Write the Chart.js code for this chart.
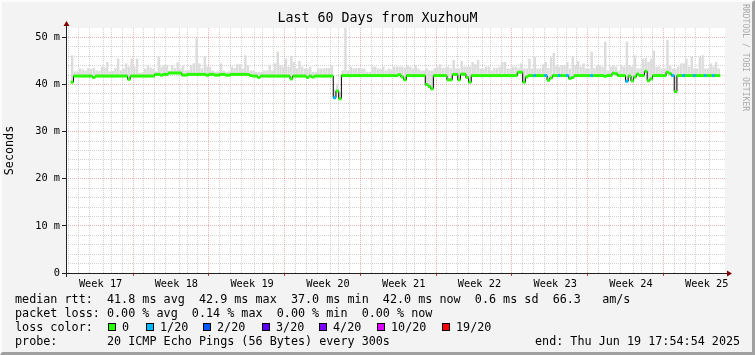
<!DOCTYPE html>
<html>
<head>
<meta charset="utf-8">
<title>Last 60 Days from XuzhouM</title>
<script src="https://cdn.jsdelivr.net/npm/chart.js@4.4.1/dist/chart.umd.min.js"></script>
<style>
  html, body { margin: 0; padding: 0; background: #f3f3f3; }
  #wrap { position: relative; width: 755px; height: 355px; background: #f3f3f3; overflow: hidden;
          font-family: 'DejaVu Sans Mono', monospace; color: #000; }
  #myChart { position: absolute; left: 0; top: 0; }
  #frame { position: absolute; left: 0; top: 0; width: 755px; height: 355px; box-sizing: border-box;
           border-top: 2px solid #fcfcfc; border-left: 2px solid #fcfcfc;
           border-right: 3px solid #a0a0a0; border-bottom: 3px solid #a0a0a0; pointer-events: none; }
  .row { position: absolute; left: 15px; font-size: 11.75px; line-height: 14px; white-space: pre; }
  .box { position: absolute; top: 323px; width: 8px; height: 8px; box-sizing: border-box; border: 1px solid #000; }
  .lbl { position: absolute; top: 320px; font-size: 11.75px; line-height: 14px; white-space: pre; }
  #credit { position: absolute; left: 741px; top: 4px; writing-mode: vertical-rl; font-size: 8.1px;
            color: #aaaaaa; white-space: pre; }
</style>
</head>
<body>
<div id="wrap">
  <canvas id="myChart" width="755" height="355"></canvas>
  <div id="credit">RRDTOOL / TOBI OETIKER</div>
  <div class="row" style="top:292px">median rtt:  41.8 ms avg  42.9 ms max  37.0 ms min  42.0 ms now  0.6 ms sd  66.3   am/s</div>
  <div class="row" style="top:306px">packet loss: 0.00 % avg  0.14 % max  0.00 % min  0.00 % now</div>
  <div class="row" style="top:320px">loss color:</div>
  <div id="lossRow"></div>
  <div class="row" style="top:334px">probe:       20 ICMP Echo Pings (56 Bytes) every 300s</div>
  <div class="row" style="top:334px;left:535px">end: Thu Jun 19 17:54:54 2025</div>
  <div id="frame"></div>
</div>
<script>
// 60 days, one sample every 6 hours (value in ms)
const median = [
  40.5, 41.8, 41.8, 41.8, 41.8, 41.8, 41.8, 41.8, 41.5, 41.8,
  41.8, 41.8, 41.8, 41.8, 41.8, 41.8, 41.8, 41.8, 41.8, 41.8,
  41.8, 41.1, 41.8, 41.8, 41.8, 41.8, 41.8, 41.8, 41.8, 41.8,
  41.8, 42.15, 42.15, 42.0, 42.15, 42.15, 42.45, 42.45, 42.45, 42.45,
  42.45, 42.0, 42.0, 42.15, 42.15, 42.15, 42.15, 42.15, 42.15, 42.15,
  42.0, 42.15, 42.15, 42.0, 42.0, 42.15, 42.15, 42.0, 42.0, 42.15,
  42.15, 42.15, 42.15, 42.15, 42.15, 42.15, 41.9, 41.8, 41.8, 41.5,
  41.8, 41.8, 41.8, 41.8, 41.8, 41.8, 41.8, 41.8, 41.8, 41.8,
  41.8, 41.2, 41.8, 41.8, 41.8, 41.8, 41.8, 41.5, 41.8, 41.6,
  41.8, 41.8, 41.8, 41.8, 41.8, 41.8, 41.8, 37.2, 38.6, 37.0,
  41.9, 41.9, 41.9, 41.9, 41.9, 41.9, 41.9, 41.9, 41.9, 41.9,
  41.9, 41.9, 41.9, 41.9, 41.9, 41.9, 41.9, 41.9, 41.9, 41.9,
  41.9, 42.1, 41.6, 41.0, 41.9, 41.9, 41.9, 41.9, 41.9, 41.9,
  41.9, 40.0, 39.6, 39.1, 41.9, 41.9, 41.9, 41.9, 41.9, 41.0,
  41.0, 42.15, 42.15, 41.0, 42.2, 42.2, 41.5, 40.5, 41.9, 41.9,
  41.9, 41.9, 41.9, 41.9, 41.9, 41.9, 41.9, 41.9, 41.9, 41.9,
  41.9, 41.9, 41.9, 41.9, 41.9, 42.6, 42.6, 40.5, 41.6, 41.9,
  41.9, 41.9, 41.9, 41.9, 41.9, 41.9, 40.9, 41.4, 41.9, 41.9,
  41.9, 41.9, 41.9, 41.9, 41.3, 41.5, 41.9, 41.9, 41.9, 41.9,
  41.9, 41.9, 41.9, 41.9, 41.9, 41.9, 41.9, 41.75, 41.9, 41.9,
  42.4, 42.3, 41.9, 41.9, 41.9, 40.7, 41.8, 40.8, 41.6, 42.2,
  41.9, 41.9, 42.8, 40.8, 41.2, 41.9, 41.9, 41.9, 41.9, 41.9,
  42.6, 42.3, 41.9, 38.5, 41.9, 41.9, 41.9, 41.9, 41.9, 41.9,
  41.9, 41.9, 41.9, 41.9, 41.9, 41.9, 41.9, 41.9, 41.9, 41.9
];

// top of the smoke (slowest ping) per sample, ms
const smokeTop = [
  46.2, 42.8, 42.8, 43.4, 43.2, 43.0, 43.5, 43.3, 43.5, 43.0,
  42.9, 43.8, 43.6, 44.8, 42.8, 42.9, 43.5, 45.5, 43.0, 43.4,
  44.5, 43.8, 45.5, 43.8, 45.5, 42.5, 42.6, 43.4, 44.1, 43.6,
  43.4, 42.8, 46.0, 43.8, 44.1, 44.2, 43.0, 44.1, 43.5, 44.7,
  43.4, 44.1, 43.0, 43.1, 44.1, 44.5, 49.8, 44.5, 43.4, 46.0,
  43.8, 43.7, 43.0, 42.7, 42.8, 44.5, 43.0, 42.7, 42.8, 43.8,
  43.5, 44.3, 44.3, 43.4, 46.2, 44.1, 43.0, 43.0, 42.7, 42.7,
  42.7, 43.0, 43.0, 44.2, 43.0, 44.5, 47.0, 44.2, 43.8, 45.5,
  43.8, 46.1, 44.8, 43.4, 45.0, 43.8, 43.4, 43.4, 43.8, 42.7,
  42.7, 43.4, 43.4, 43.4, 43.5, 43.5, 44.1, 39.0, 40.2, 38.5,
  43.0, 52.0, 43.0, 43.8, 43.4, 43.5, 43.5, 43.4, 43.4, 42.7,
  42.7, 43.8, 43.8, 43.4, 43.4, 43.8, 43.0, 43.4, 43.2, 43.8,
  43.8, 43.8, 43.8, 43.6, 44.1, 43.8, 43.4, 44.1, 43.4, 43.0,
  43.0, 43.5, 43.0, 43.0, 43.5, 43.8, 44.3, 43.5, 43.6, 43.8,
  43.4, 45.2, 43.4, 43.4, 45.0, 43.8, 43.8, 43.8, 44.8, 44.3,
  45.2, 43.4, 43.4, 43.8, 43.8, 43.0, 43.5, 43.5, 43.8, 44.8,
  44.8, 43.4, 43.4, 43.8, 43.8, 43.5, 44.5, 43.4, 43.4, 45.5,
  43.4, 45.9, 43.4, 43.4, 44.3, 44.8, 43.5, 45.9, 46.7, 44.1,
  43.8, 44.1, 44.1, 44.8, 43.4, 46.0, 44.1, 45.0, 43.8, 44.5,
  43.4, 43.4, 47.0, 43.5, 44.1, 44.1, 43.8, 49.1, 43.0, 43.8,
  44.1, 43.8, 43.0, 44.1, 43.8, 49.1, 44.1, 43.8, 46.2, 43.4,
  43.4, 45.5, 45.6, 44.8, 45.5, 47.2, 43.8, 43.8, 43.4, 43.4,
  49.5, 44.1, 43.4, 43.4, 43.8, 44.5, 44.5, 45.5, 43.8, 45.9,
  43.4, 43.4, 45.9, 46.2, 43.4, 43.4, 44.5, 43.8, 44.8, 43.4
];

// samples that lost 1 of 20 pings
const lossOneIdx = [97, 171, 175, 180, 183, 192, 205, 222, 226, 230, 234, 237];

const lossLabels = ["0", "1/20", "2/20", "3/20", "4/20", "10/20", "19/20"];
const lossColors = ["#26ff00", "#00b8ff", "#0059ff", "#5e00ff", "#7e00ff", "#dd00ff", "#ff0000"];

const weekLabels = ["Week 17", "Week 18", "Week 19", "Week 20", "Week 21", "Week 22", "Week 23", "Week 24", "Week 25"];
const yTickValues = [0, 10, 20, 30, 40, 50];
const yTickLabels = ["0", "10 m", "20 m", "30 m", "40 m", "50 m"];

// start is Sun Apr 20 17:54:54, first midnight 0.2535 days later
const firstMidnight = 0.2535;
const sampleStep = 0.25;

// ---- legend row with the colour boxes
const boxX = [108, 146, 203, 262, 319, 377, 442];
const lossRow = document.getElementById("lossRow");
lossLabels.forEach(function (l, i) {
    const b = document.createElement("div");
    b.className = "box";
    b.style.left = boxX[i] + "px";
    b.style.background = lossColors[i];
    lossRow.appendChild(b);
    const t = document.createElement("div");
    t.className = "lbl";
    t.style.left = (boxX[i] + 14) + "px";
    t.textContent = l;
    lossRow.appendChild(t);
});

const days = median.map((_, i) => i * sampleStep + sampleStep / 2);
const lossOf = median.map((_, i) => lossOneIdx.includes(i) ? 1 : 0);

const dayLines = [];
for (let k = 0; k < 60; k++) dayLines.push(firstMidnight + k);
const labelPos = weekLabels.map((_, j) => firstMidnight + 6 - 3.5 + 7 * j);
const xTicks = dayLines.concat(labelPos).sort((a, b) => a - b);
const yGrid = [];
for (let v = 0; v <= 50; v += 2) yGrid.push(v);

const tv = c => (c && c.tick) ? c.tick.value : NaN;
const isDayLine = v => Math.abs((v - firstMidnight) - Math.round(v - firstMidnight)) < 0.01;
const isWeekLine = v => isDayLine(v) && Math.round(v - firstMidnight) % 7 === 6;

const NONE = "rgba(0,0,0,0)";
const GRID = "rgba(150,150,150,0.42)";
const MGRID = "rgba(215,60,60,0.38)";
const monoFont = { family: "'DejaVu Sans Mono', monospace", size: 10.3 };

const plotDecor = {
    id: "plotDecor",
    beforeDraw(chart) {
        const { ctx, chartArea: a } = chart;
        ctx.save();
        ctx.fillStyle = "#ffffff";
        ctx.fillRect(a.left, a.top, a.right - a.left, a.bottom - a.top);
        ctx.restore();
    },
    afterDraw(chart) {
        const { ctx, chartArea: a } = chart;
        const x0 = Math.round(a.left) + 0.5;
        const y0 = Math.round(a.bottom) + 0.5;
        ctx.save();
        ctx.strokeStyle = "#212121";
        ctx.lineWidth = 1;
        ctx.beginPath();
        ctx.moveTo(a.left - 4, y0); ctx.lineTo(a.right + 3, y0);
        ctx.moveTo(x0, a.bottom + 4); ctx.lineTo(x0, a.top - 3);
        ctx.stroke();
        ctx.fillStyle = "#800000";
        ctx.beginPath();
        ctx.moveTo(x0 - 3, a.top - 2); ctx.lineTo(x0 + 3, a.top - 2); ctx.lineTo(x0, a.top - 7);
        ctx.closePath(); ctx.fill();
        ctx.beginPath();
        ctx.moveTo(a.right + 2, y0 - 3); ctx.lineTo(a.right + 2, y0 + 3); ctx.lineTo(a.right + 7, y0);
        ctx.closePath(); ctx.fill();
        ctx.restore();
    }
};

new Chart("myChart", {
    type: "bar",
    data: {
        datasets: [{
            type: "line",
            label: "loss",
            data: days.map((d, i) => ({ x: d, y: median[i] })),
            showLine: false,
            pointStyle: "line",
            pointRadius: 1.45,
            pointBorderWidth: 3,
            pointBorderColor: lossOf.map(l => lossColors[l]),
            order: 1
        }, {
            type: "line",
            label: "median rtt",
            data: days.map((d, i) => ({ x: d, y: median[i] })),
            borderColor: "#000000",
            borderWidth: 1,
            stepped: "middle",
            pointRadius: 0,
            order: 2
        }, {
            type: "bar",
            label: "smoke",
            data: days.map((d, i) => ({ x: d, y: [median[i], smokeTop[i]] })),
            backgroundColor: "#dcdcdc",
            borderWidth: 0,
            barPercentage: 0.9,
            categoryPercentage: 1,
            order: 3
        }]
    },
    options: {
        responsive: false,
        animation: false,
        events: [],
        layout: { padding: 0 },
        plugins: {
            legend: { display: false },
            tooltip: { enabled: false },
            title: {
                display: true,
                text: "Last 60 Days from XuzhouM",
                color: "#000",
                font: { family: "'DejaVu Sans Mono', monospace", size: 13.3, weight: "normal", lineHeight: "16px" },
                padding: { top: 11, bottom: 1 }
            }
        },
        scales: {
            x: {
                type: "linear",
                min: 0,
                max: 60,
                afterBuildTicks: s => { s.ticks = xTicks.map(v => ({ value: v })); },
                afterFit: s => { s.height = 82; },
                grid: {
                    color: c => !isDayLine(tv(c)) ? NONE : (isWeekLine(tv(c)) ? MGRID : GRID),
                    tickColor: c => isWeekLine(tv(c)) ? "#c04040" : NONE,
                    tickLength: 3
                },
                border: { display: false, dash: [1, 1] },
                ticks: {
                    autoSkip: false,
                    maxRotation: 0,
                    minRotation: 0,
                    padding: 2,
                    color: "#000",
                    font: monoFont,
                    callback: v => isDayLine(v) ? "" : weekLabels[Math.round((v - labelPos[0]) / 7)]
                }
            },
            y: {
                min: 0,
                max: 52,
                afterBuildTicks: s => { s.ticks = yGrid.map(v => ({ value: v })); },
                afterFit: s => { s.width = 66; },
                grid: {
                    color: c => (isNaN(tv(c)) || tv(c) === 0) ? NONE : (tv(c) % 10 === 0 ? MGRID : GRID),
                    tickColor: c => tv(c) % 10 === 0 ? "#212121" : NONE,
                    tickLength: 4
                },
                border: { display: false, dash: [1, 1] },
                ticks: {
                    autoSkip: false,
                    padding: 2,
                    color: "#000",
                    font: monoFont,
                    callback: v => { const j = yTickValues.indexOf(v); return j < 0 ? "" : yTickLabels[j]; }
                },
                title: {
                    display: true,
                    text: "Seconds",
                    color: "#000",
                    font: { family: "'DejaVu Sans Mono', monospace", size: 11.75 },
                    padding: { top: 3, bottom: 0 }
                }
            },
            r: {
                type: "linear",
                position: "right",
                display: true,
                grid: { display: false },
                ticks: { display: false },
                border: { display: false },
                afterFit: s => { s.width = 30; }
            }
        }
    },
    plugins: [plotDecor]
});
</script>
</body>
</html>
